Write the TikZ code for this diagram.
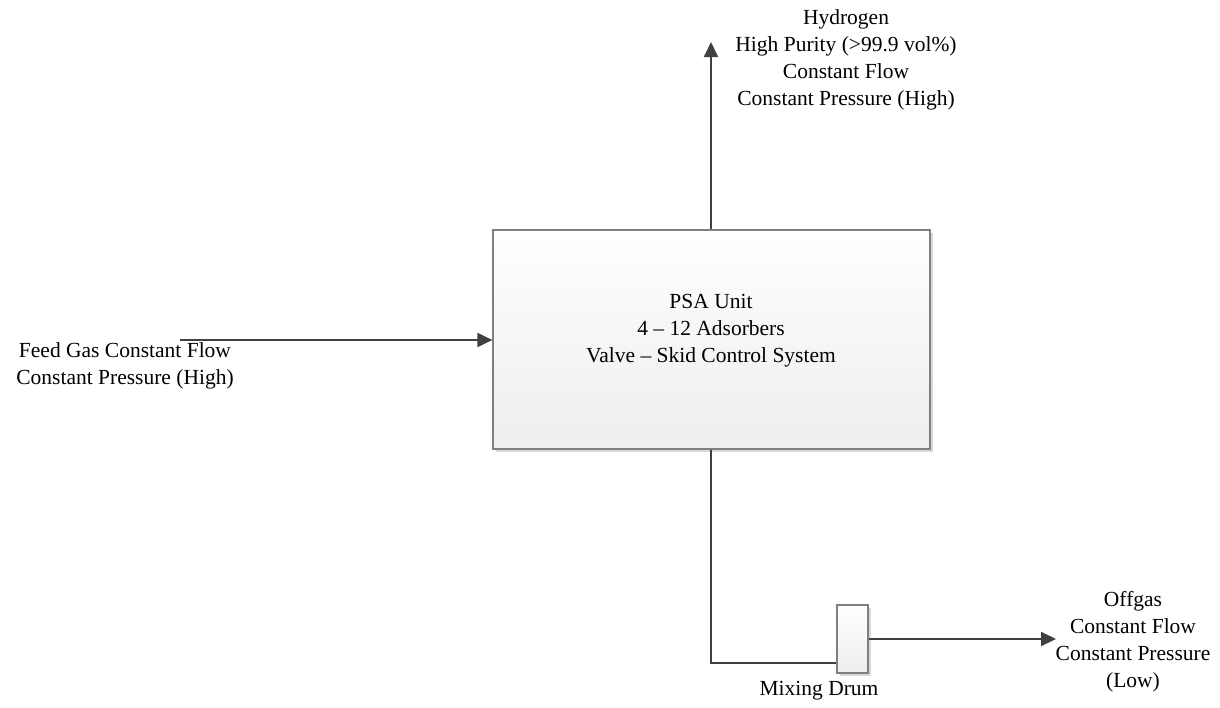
\documentclass[tikz,border=0pt]{standalone}
\usepackage{fontspec}
\setmainfont{Liberation Serif}
\usetikzlibrary{arrows.meta,shadows}
\definecolor{linegray}{HTML}{404040}
\definecolor{boxgray}{HTML}{7F7F7F}
\begin{document}
\begin{tikzpicture}[x=1pt,y=-1pt,
  every node/.style={font=\fontsize{21.5}{27}\selectfont, align=center, inner sep=0pt},
  flow/.style={draw=linegray, line width=2pt, -{Triangle[length=15pt,width=14pt]}},
  pipe/.style={draw=linegray, line width=2pt},
  unitbox/.style={draw=boxgray, line width=1.2pt, top color=white, bottom color=black!7,
    drop shadow={shadow xshift=3pt, shadow yshift=-3pt, fill=black!15, opacity=1}},
  lbl/.style={text=black}]
\useasboundingbox (0,0) rectangle (1220,707);
% PSA unit
\node[unitbox, minimum width=437pt, minimum height=219pt] (psa) at (711.5,339.5) {};
\node[lbl] (psatext) at (711,331) {PSA Unit\\4 -- 12 Adsorbers\\Valve -- Skid Control System};
% mixing drum
\node[unitbox, minimum width=31pt, minimum height=68pt] (drum) at (852.5,639) {};
\node[lbl] (drumlbl) at (819,691) {Mixing Drum};
% labels
\node[lbl] (h2) at (846,60) {Hydrogen\\High Purity (>99.9 vol\%)\\Constant Flow\\Constant Pressure (High)};
\node[lbl] (feed) at (125,366) {Feed Gas Constant Flow\\Constant Pressure (High)};
\node[lbl] (off) at (1133,642) {Offgas\\Constant Flow\\Constant Pressure\\(Low)};
% coordinates
\coordinate (feedstart) at (180,340);
\coordinate (h2end) at (711,42);
\coordinate (bend) at (711,663);
\coordinate (offend) at (1056,639);
% connectors
\draw[flow] (feedstart) -- (psa.west |- feedstart);
\draw[flow] (psa.north -| h2end) -- (h2end);
\draw[pipe] (psa.south -| bend) -- (bend) -- (drum.west |- bend);
\draw[flow] (drum.east) -- (offend);
\end{tikzpicture}
\end{document}
